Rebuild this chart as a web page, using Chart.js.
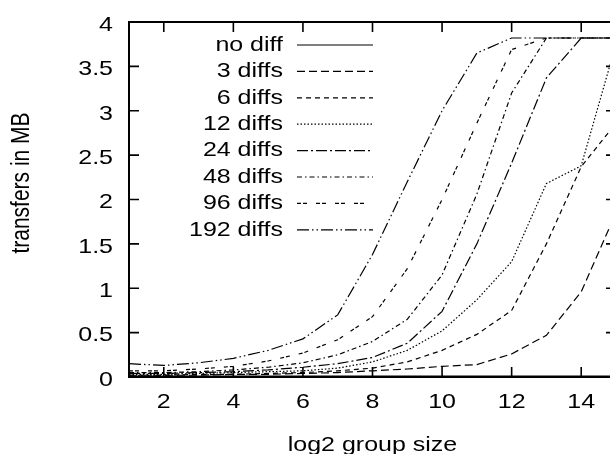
<!DOCTYPE html>
<html>
<head>
<meta charset="utf-8">
<script src="https://cdn.jsdelivr.net/npm/chart.js@4"></script>
<style>
html, body { margin: 0; padding: 0; background: #fff; overflow: hidden; }
#wrap { position: absolute; left: 0; top: 0; width: 626px; height: 454px; }
</style>
</head>
<body>
<div id="wrap"><canvas id="lineChart"></canvas></div>
<script>
'use strict';

// values (x = log2 group size)
const groupSizes = [1, 2, 3, 4, 5, 6, 7, 8, 9, 10, 11, 12, 13, 14, 15];
const noDiff     = [0.01, 0.01, 0.01, 0.01, 0.01, 0.01, 0.01, 0.01, 0.01, 0.01, 0.01, 0.01, 0.01, 0.01, 0.01];
const diffs3     = [0.02, 0.02, 0.02, 0.03, 0.03, 0.04, 0.05, 0.07, 0.09, 0.12, 0.14, 0.26, 0.47, 0.96, 1.85];
const diffs6     = [0.02, 0.02, 0.03, 0.03, 0.04, 0.05, 0.07, 0.10, 0.17, 0.30, 0.48, 0.75, 1.50, 2.37, 2.86];
const diffs12    = [0.03, 0.03, 0.04, 0.05, 0.06, 0.07, 0.10, 0.17, 0.30, 0.52, 0.87, 1.30, 2.18, 2.38, 3.75];
const diffs24    = [0.04, 0.04, 0.05, 0.06, 0.08, 0.11, 0.15, 0.22, 0.38, 0.74, 1.50, 2.41, 3.37, 3.82, 3.82];
const diffs48    = [0.05, 0.05, 0.06, 0.08, 0.11, 0.16, 0.25, 0.40, 0.65, 1.15, 2.06, 3.20, 3.82, 3.82, 3.82];
const diffs96    = [0.07, 0.07, 0.09, 0.12, 0.18, 0.27, 0.42, 0.68, 1.22, 2.00, 2.86, 3.69, 3.82, 3.82, 3.82];
const diffs192   = [0.15, 0.13, 0.16, 0.21, 0.30, 0.43, 0.70, 1.38, 2.20, 3.00, 3.65, 3.82, 3.82, 3.82, 3.82];

const seriesNames = ['no diff', '3 diffs', '6 diffs', '12 diffs', '24 diffs', '48 diffs', '96 diffs', '192 diffs'];
const seriesValues = [noDiff, diffs3, diffs6, diffs12, diffs24, diffs48, diffs96, diffs192];
const dashes = [[], [8, 4], [5, 4], [1.5, 2], [11, 3, 2, 3], [5, 3, 1.5, 3], [4, 2, 4, 9], [12, 3, 1.5, 3, 1.5, 3]];

const xTicks = [2, 4, 6, 8, 10, 12, 14];
const yTicks = [0, 0.5, 1, 1.5, 2, 2.5, 3, 3.5, 4];

const FONT = '21px "Liberation Sans", Arial, sans-serif';
const STRETCH = 1.19; // the picture's text is wider than it is tall

function stretchedText(ctx, text, x, y, align) {
    ctx.save();
    ctx.translate(x, y);
    ctx.scale(STRETCH, 1);
    ctx.textAlign = align;
    ctx.textBaseline = 'middle';
    ctx.fillText(text, 0, 0);
    ctx.restore();
}

// gnuplot style frame: border, inward ticks on all sides, labels, key
const gnuplotFrame = {
    id: 'gnuplotFrame',
    afterDatasetsDraw(chart) {
        const ctx = chart.ctx;
        const a = chart.chartArea;
        const xs = chart.scales.x;
        const ys = chart.scales.y;
        const tick = 10;

        ctx.save();
        ctx.strokeStyle = '#000';
        ctx.fillStyle = '#000';
        ctx.setLineDash([]);
        ctx.lineWidth = 2;
        ctx.strokeRect(a.left, a.top, a.right - a.left, a.bottom - a.top);

        ctx.lineWidth = 1.6;
        ctx.beginPath();
        xs.ticks.forEach(t => {
            const px = xs.getPixelForValue(t.value);
            ctx.moveTo(px, a.bottom); ctx.lineTo(px, a.bottom - tick);
            ctx.moveTo(px, a.top); ctx.lineTo(px, a.top + tick);
        });
        ys.ticks.forEach(t => {
            const py = ys.getPixelForValue(t.value);
            ctx.moveTo(a.left, py); ctx.lineTo(a.left + tick, py);
            ctx.moveTo(a.right, py); ctx.lineTo(a.right - tick, py);
        });
        ctx.stroke();

        ctx.font = FONT;
        xs.ticks.forEach(t => {
            stretchedText(ctx, String(t.value), xs.getPixelForValue(t.value), a.bottom + 25, 'center');
        });
        ys.ticks.forEach(t => {
            stretchedText(ctx, String(t.value), a.left - 16, ys.getPixelForValue(t.value) + 3, 'right');
        });

        // axis titles
        stretchedText(ctx, 'log2 group size', (a.left + a.right) / 2, 445, 'center');
        ctx.save();
        ctx.translate(22, 183);
        ctx.rotate(-Math.PI / 2);
        ctx.scale(1, STRETCH);
        ctx.textAlign = 'center';
        ctx.textBaseline = 'middle';
        ctx.fillText('transfers in MB', 0, 0);
        ctx.restore();

        // key: text then line sample
        chart.data.datasets.forEach((ds, i) => {
            const y = 45 + i * 26.4;
            stretchedText(ctx, ds.label, 283, y, 'right');
            ctx.beginPath();
            ctx.lineWidth = 1.2;
            ctx.setLineDash(ds.borderDash);
            ctx.moveTo(297, y);
            ctx.lineTo(373, y);
            ctx.stroke();
        });
        ctx.restore();
    }
};

new Chart(document.getElementById('lineChart'), {
    type: 'line',
    data: {
        datasets: seriesNames.map((name, i) => ({
            label: name,
            data: groupSizes.map((g, j) => ({ x: g, y: seriesValues[i][j] })),
            borderColor: '#000',
            borderWidth: 1.2,
            borderDash: dashes[i],
            pointRadius: 0,
            tension: 0,
            fill: false
        }))
    },
    options: {
        responsive: true,
        maintainAspectRatio: false,
        animation: false,
        devicePixelRatio: 1,
        layout: { padding: { top: 22, right: 10, left: 0, bottom: 0 } },
        plugins: { legend: { display: false }, tooltip: { enabled: false } },
        scales: {
            x: {
                type: 'linear', min: 1, max: 15,
                grid: { display: false }, border: { display: false },
                ticks: { display: false },
                afterBuildTicks: s => { s.ticks = xTicks.map(v => ({ value: v })); },
                afterFit: s => { s.height = 77; }
            },
            y: {
                min: 0, max: 4,
                grid: { display: false }, border: { display: false },
                ticks: { display: false },
                afterBuildTicks: s => { s.ticks = yTicks.map(v => ({ value: v })); },
                afterFit: s => { s.width = 129; }
            }
        }
    },
    plugins: [gnuplotFrame]
});
</script>
</body>
</html>
